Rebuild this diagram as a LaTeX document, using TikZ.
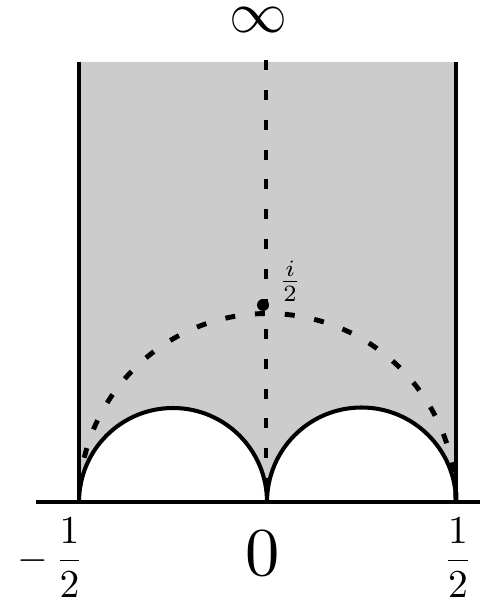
\documentclass[tikz,border=0pt]{standalone}
\begin{document}
\begin{tikzpicture}[x=0.02cm,y=0.02cm,
  boundary/.style={line width=2.8pt},
  geod/.style={line width=2.3pt},
  dashgeod/.style={line width=2.8pt, dash pattern=on 5.7pt off 11.3pt},
  lab/.style={inner sep=0pt}]
\useasboundingbox (0,0) rectangle (480,598);
% gray fundamental domain
\fill[gray!40] (79,536) -- (456,536) -- (456,96)
  arc[start angle=0,end angle=180,radius=94.5]
  arc[start angle=0,end angle=180,radius=94] -- cycle;
% dashed lines
\draw[dashgeod] (266,538) -- (266,96);
\draw[dashgeod] (456,96) arc[start angle=0,end angle=180,radius=188.5];
% semicircles
\draw[geod] (456,96) arc[start angle=0,end angle=180,radius=94.5]
  arc[start angle=0,end angle=180,radius=94];
% vertical boundary lines
\draw[boundary] (79,536) -- (79,96);
\draw[boundary] (456,536) -- (456,96);
% axis
\draw[boundary] (36,96) -- (480,96);
% point i/2
\fill (263,293) circle[radius=6];
\node[lab,scale=1.9] (ilab) at (290,317) {$\frac{i}{2}$};
% labels
\node[lab,scale=3.3] (inf) at (258,578) {$\infty$};
\node[lab,scale=2.25,anchor=east] (mhalf) at (85,40) {$\displaystyle-\,\frac{1}{2}$};
\node[lab,scale=3.9] (zero) at (263,45) {$0$};
\node[lab,scale=2.25] (half) at (458,40) {$\displaystyle\frac{1}{2}$};
\end{tikzpicture}
\end{document}
